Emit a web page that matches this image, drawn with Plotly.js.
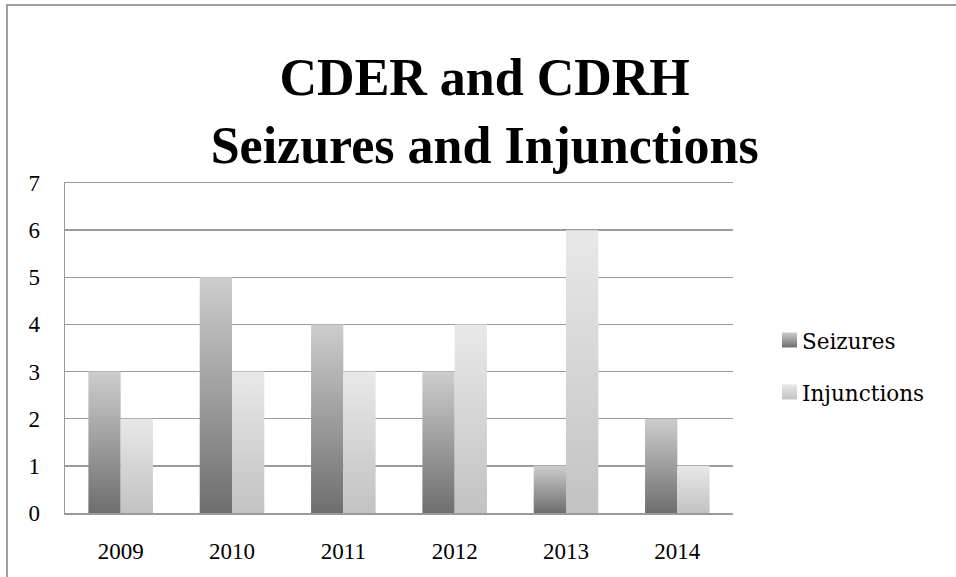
<!DOCTYPE html>
<html>
<head>
<meta charset="utf-8">
<script src="https://cdn.plot.ly/plotly-3.0.1.min.js"></script>
<style>
html,body{margin:0;padding:0;background:#fff;}
#chart{width:956px;height:577px;}
</style>
</head>
<body>
<div id="chart"></div>
<script>
const years = ['2009','2010','2011','2012','2013','2014'];
const seizures = [3,5,4,3,1,2];
const injunctions = [2,3,3,4,6,1];
const yTicks = [0,1,2,3,4,5,6,7];

const serif = 'Liberation Serif, Times New Roman, serif';
const legSerif = 'DejaVu Serif, serif';
const gridCol = '#9a9a9a';

const traces = [
  {type:'bar', name:'Seizures', x:years, y:seizures, legendgroup:'a',
   marker:{color:'#a0a0a0', line:{width:0}}, hoverinfo:'none'},
  {type:'bar', name:'Injunctions', x:years, y:injunctions, legendgroup:'b',
   marker:{color:'#d6d6d6', line:{width:0}}, hoverinfo:'none'}
];

const pw = 668, ph = 330, L = 65, T = 183;
const layout = {
  width:956, height:577,
  margin:{l:L, r:956-L-pw, t:T, b:577-T-ph, pad:0},
  paper_bgcolor:'#fff', plot_bgcolor:'#fff',
  barmode:'group', bargap:0.42, bargroupgap:0,
  showlegend:true,
  title:{text:'<b>CDER and CDRH<br>Seizures and Injunctions</b>',
    font:{family:serif, size:52, color:'#000'},
    xref:'container', x:0.507, xanchor:'center',
    yref:'container', y:1-95/577, yanchor:'top'},
  legend:{x:(762-L)/pw, xanchor:'left', y:1-(320-T)/ph, yanchor:'top',
    font:{family:legSerif, size:21.5, color:'#000'},
    traceorder:'grouped', tracegroupgap:21, itemwidth:30, bgcolor:'rgba(0,0,0,0)'},
  xaxis:{type:'category', showgrid:false, showline:true, mirror:true, linecolor:gridCol, linewidth:1.5,
    ticks:'', tickfont:{family:serif, size:23, color:'#000'}, ticklabelstandoff:17,
    fixedrange:true},
  yaxis:{range:[0,7], tickvals:yTicks, ticktext:yTicks.map(String), showgrid:true, gridcolor:gridCol, gridwidth:1.5,
    showline:true, linecolor:gridCol, linewidth:1.5, zeroline:false, mirror:false,
    ticks:'', tickfont:{family:serif, size:23, color:'#000'}, ticklabelstandoff:19,
    fixedrange:true},
  shapes:[{type:'rect', xref:'paper', yref:'paper',
    x0:(7-L)/pw, x1:(990-L)/pw, y0:(T+ph-620)/ph, y1:(T+ph-5)/ph,
    line:{color:'#a0a0a0', width:2}, fillcolor:'rgba(0,0,0,0)', layer:'below'}]
};

function applyGradients(gd){
  const svg = gd.querySelector('svg.main-svg');
  const ns = 'http://www.w3.org/2000/svg';
  let defs = svg.querySelector('defs');
  if(!defs){ defs = document.createElementNS(ns,'defs'); svg.insertBefore(defs, svg.firstChild); }
  const grads = [['gSeiz','#cdcdcd','#6e6e6e'],['gInj','#e8e8e8','#c2c2c2']];
  grads.forEach(([id,top,bot])=>{
    if(document.getElementById(id)) return;
    const g = document.createElementNS(ns,'linearGradient');
    g.setAttribute('id',id); g.setAttribute('x1','0'); g.setAttribute('y1','0');
    g.setAttribute('x2','0'); g.setAttribute('y2','1');
    [[0,top],[1,bot]].forEach(([o,c])=>{
      const s = document.createElementNS(ns,'stop');
      s.setAttribute('offset',o); s.setAttribute('stop-color',c); g.appendChild(s);
    });
    defs.appendChild(g);
  });
  const ids = ['gSeiz','gInj'];
  gd.querySelectorAll('.barlayer .trace.bars').forEach((tr,i)=>{
    tr.querySelectorAll('.point path').forEach(p=>{ p.style.fill = 'url(#'+ids[i]+')'; });
  });
  gd.querySelectorAll('.legend .traces').forEach((tr,i)=>{
    tr.querySelectorAll('.legendpoints path').forEach(p=>{
      p.setAttribute('d','M0,-8H15V7H0Z');
      p.style.fill = 'url(#'+ids[i]+')'; p.style.stroke='none'; });
  });
}

Plotly.newPlot('chart', traces, layout, {displayModeBar:false, staticPlot:true})
  .then(gd=>applyGradients(gd));
</script>
</body>
</html>
